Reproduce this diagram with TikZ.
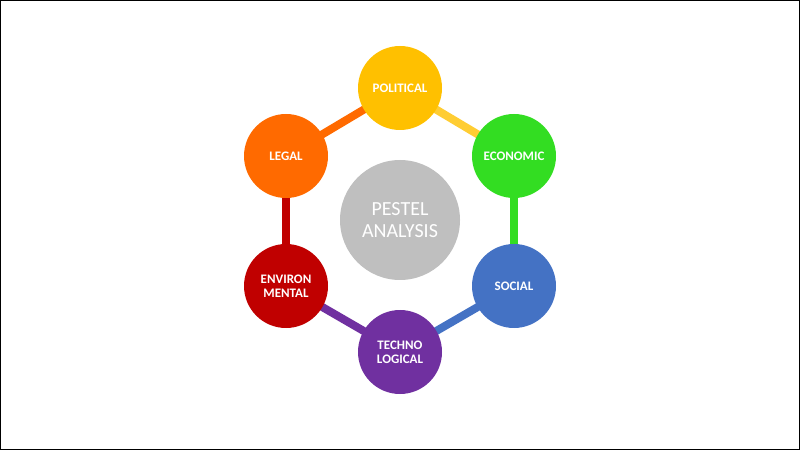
\documentclass[tikz,border=0pt]{standalone}
\usepackage{fontspec}
\setmainfont{Carlito}
\definecolor{cpol}{HTML}{FFC000}
\definecolor{ceco}{HTML}{33DD22}
\definecolor{csoc}{HTML}{4472C4}
\definecolor{ctec}{HTML}{7030A0}
\definecolor{cenv}{HTML}{C00000}
\definecolor{cleg}{HTML}{FF6A00}
\tikzset{outer/.style={circle,minimum size=84pt,inner sep=0pt,text=white,font=\bfseries\fontsize{13}{14}\selectfont,align=center},
link/.style={line width=8pt}}
\begin{document}
\begin{tikzpicture}[x=1pt,y=1pt]
\draw[black,line width=0.8pt] (0.5,0.5) rectangle (799.5,449.5);
\useasboundingbox (0,0) rectangle (800,450);
\coordinate (P) at (400,362);
\coordinate (E) at (514,294);
\coordinate (S) at (514,164);
\coordinate (T) at (400,98);
\coordinate (V) at (286,164);
\coordinate (L) at (286,294);
\draw[link,cpol!80] (P) -- (E);
\draw[link,ceco] (E) -- (S);
\draw[link,csoc] (S) -- (T);
\draw[link,ctec] (T) -- (V);
\draw[link,cenv] (V) -- (L);
\draw[link,cleg] (L) -- (P);
\node[outer,fill=cpol] (pol) at (P) {POLITICAL};
\node[outer,fill=ceco] (eco) at (E) {ECONOMIC};
\node[outer,fill=csoc] (soc) at (S) {SOCIAL};
\node[outer,fill=ctec] (tec) at (T) {TECHNO\\LOGICAL};
\node[outer,fill=cenv] (env) at (V) {ENVIRON\\MENTAL};
\node[outer,fill=cleg] (leg) at (L) {LEGAL};
\node[circle,fill=black!25,minimum size=120pt,inner sep=0pt,text=white,align=center,font=\fontsize{20}{22}\selectfont] (c) at (400,230) {PESTEL\\ANALYSIS};
\end{tikzpicture}
\end{document}
